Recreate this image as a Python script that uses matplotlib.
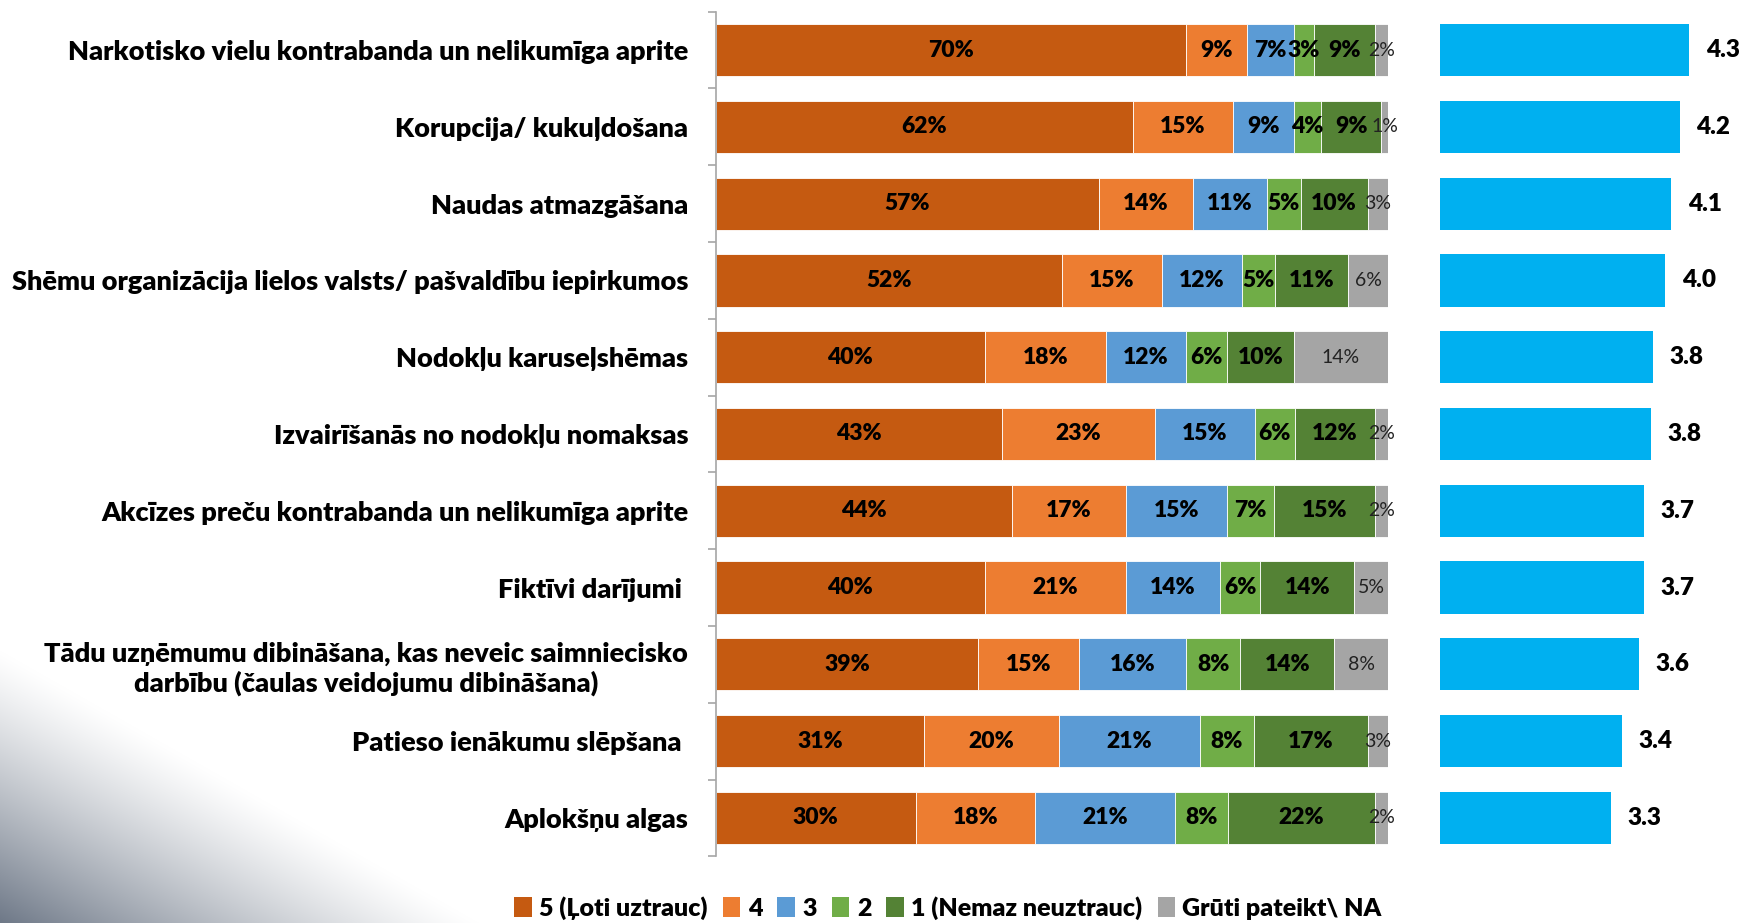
import numpy as np
import matplotlib
matplotlib.use("Agg")
import matplotlib.pyplot as plt
from matplotlib.patches import Patch

plt.rcParams['font.family'] = ['Lato', 'DejaVu Sans']

# ---- data ----
categories = [
    "Narkotisko vielu kontrabanda un nelikumīga aprite",
    "Korupcija/ kukuļdošana",
    "Naudas atmazgāšana",
    "Shēmu organizācija lielos valsts/ pašvaldību iepirkumos",
    "Nodokļu karuseļshēmas",
    "Izvairīšanās no nodokļu nomaksas",
    "Akcīzes preču kontrabanda un nelikumīga aprite",
    "Fiktīvi darījumi ",
    "Tādu uzņēmumu dibināšana, kas neveic saimniecisko\ndarbību (čaulas veidojumu dibināšana)",
    "Patieso ienākumu slēpšana ",
    "Aplokšņu algas",
]
series_names = ["5 (Ļoti uztrauc)", "4", "3", "2", "1 (Nemaz neuztrauc)", "Grūti pateikt\\ NA"]
s5 = [70, 62, 57, 52, 40, 43, 44, 40, 39, 31, 30]
s4 = [9, 15, 14, 15, 18, 23, 17, 21, 15, 20, 18]
s3 = [7, 9, 11, 12, 12, 15, 15, 14, 16, 21, 21]
s2 = [3, 4, 5, 5, 6, 6, 7, 6, 8, 8, 8]
s1 = [9, 9, 10, 11, 10, 12, 15, 14, 14, 17, 22]
sna = [2, 1, 3, 6, 14, 2, 2, 5, 8, 3, 2]
mean_scores = [4.30, 4.17, 4.06, 3.98, 3.82, 3.79, 3.70, 3.70, 3.63, 3.41, 3.26]

colors = ["#C55A11", "#ED7D31", "#5B9BD5", "#70AD47", "#548235", "#A5A5A5"]
mean_color = "#00B0F0"
BOLD = 'heavy'

W, H = 1743, 923
fig = plt.figure(figsize=(W / 100, H / 100), dpi=100)

# faint grey decoration in the lower left corner
bg = fig.add_axes([0, 0, 1, 1], zorder=-10)
bg.axis('off')
yy, xx = np.mgrid[0:H, 0:W]
dark = np.clip((yy - 650) / 273.0 - xx / 480.0, 0, 1) ** 1.2
base = np.array([0.43, 0.47, 0.53])
img = np.ones((H, W, 3)) - dark[..., None] * (1 - base)
bg.imshow(img, extent=[0, W, H, 0], aspect='auto')
bg.set_xlim(0, W)
bg.set_ylim(H, 0)

# ---- stacked percentage bars ----
ax = fig.add_axes([716 / W, 0.0722, 672 / W, 0.9152])
ax.patch.set_alpha(0)
y = np.arange(len(categories))
raw = [s5, s4, s3, s2, s1, sna]
data = np.array(raw, dtype=float)
data = data / data.sum(axis=0) * 100
left = np.zeros(len(categories))
for k in range(len(series_names)):
    bars = ax.barh(y, data[k], left=left, height=0.68, color=colors[k],
                   edgecolor='white', linewidth=0.6, label=series_names[k])
    for i, b in enumerate(bars):
        cx = left[i] + data[k][i] / 2
        if k == 5:
            ax.text(cx, y[i], f"{raw[k][i]}%", ha='center', va='center',
                    fontsize=14, color='#222222')
        else:
            ax.text(cx, y[i], f"{raw[k][i]}%", ha='center', va='center',
                    fontsize=16.5, fontweight=BOLD, color='black')
    left += data[k]

ax.set_xlim(0, 100)
ax.set_ylim(len(categories) - 0.5, -0.5)
ax.set_yticks(y)
ax.set_yticklabels(categories, fontsize=19.5, fontweight=BOLD, multialignment='center')
ax.set_yticks(np.arange(len(categories) + 1) - 0.5, minor=True)
ax.tick_params(axis='y', which='major', length=0, pad=20)
ax.tick_params(axis='y', which='minor', length=6, color='#A6A6A6', width=1.2)
ax.set_xticks([])
for s in ['top', 'right', 'bottom']:
    ax.spines[s].set_visible(False)
ax.spines['left'].set_color('#A6A6A6')
ax.spines['left'].set_linewidth(1.2)

# ---- mean score bars ----
ax2 = fig.add_axes([1440 / W, 0.0722, 302.4 / W, 0.9152])
ax2.patch.set_alpha(0)
ax2.barh(y, np.array(mean_scores) - 1, left=1, height=0.68, color=mean_color)
for i, v in enumerate(mean_scores):
    ax2.text(v + 0.22, y[i], f"{v:.1f}", ha='left', va='center',
             fontsize=17.5, fontweight=BOLD, color='black')
ax2.set_xlim(1, 5)
ax2.set_ylim(len(categories) - 0.5, -0.5)
ax2.axis('off')

handles = [Patch(facecolor=c) for c in colors]
fig.legend(handles, series_names, loc='center', bbox_to_anchor=(948 / W, 1 - 908 / H),
           ncol=6, frameon=False, handlelength=0.7, handleheight=0.9,
           handletextpad=0.3, columnspacing=0.6,
           prop={'weight': BOLD, 'size': 18})

fig.savefig("out.png", dpi=100)
